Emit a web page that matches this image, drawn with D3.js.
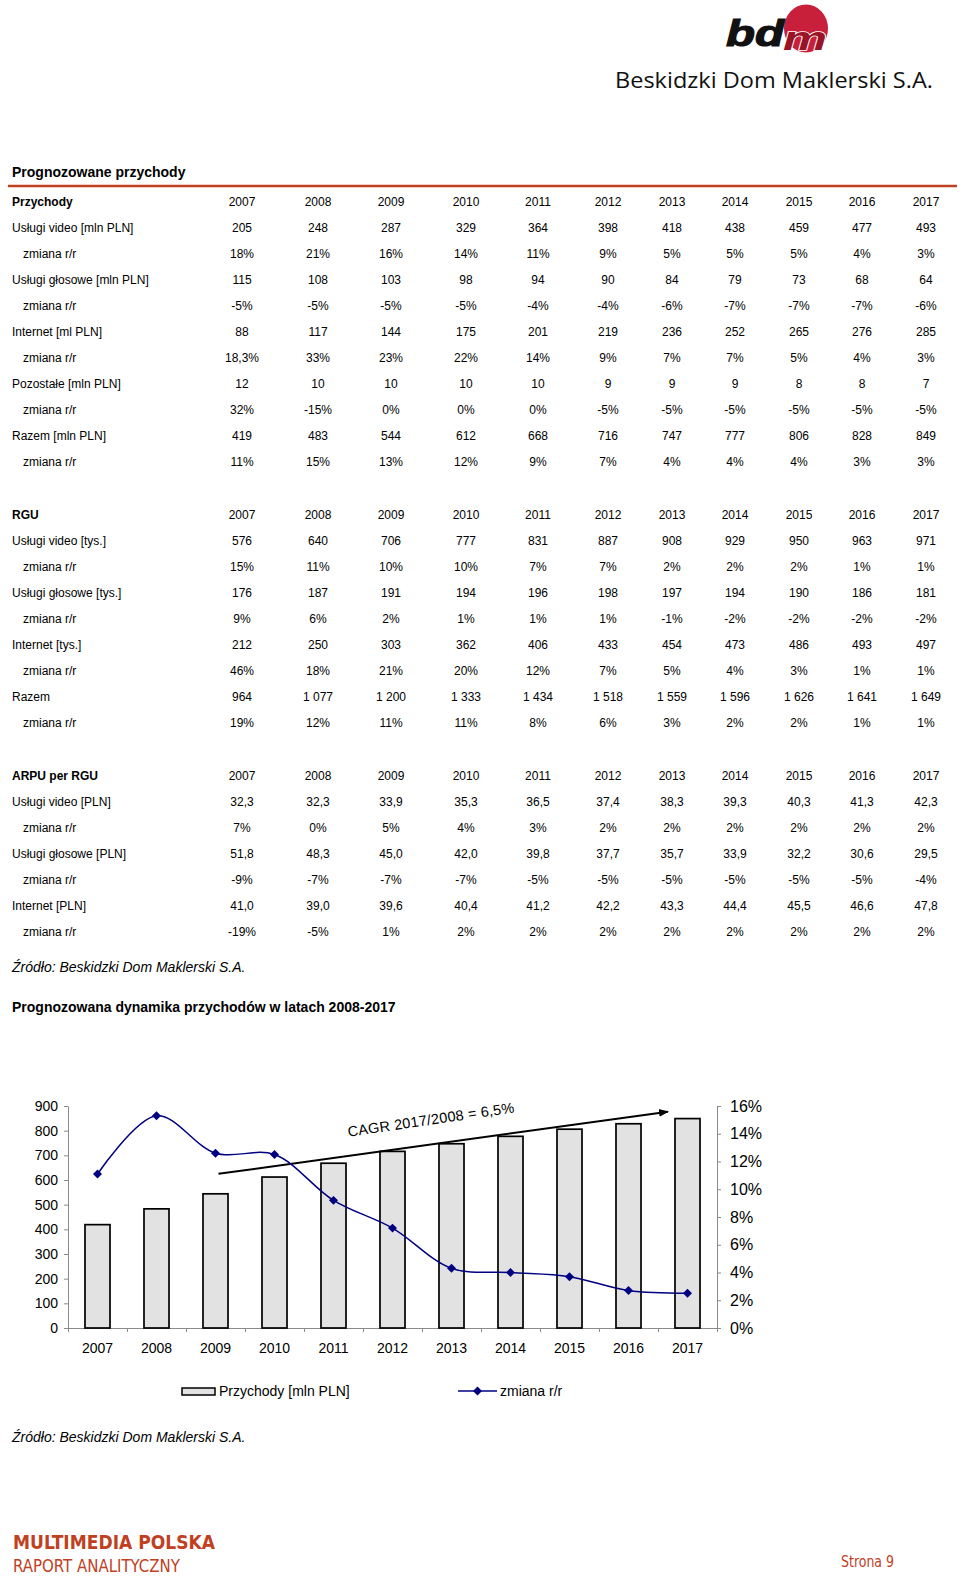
<!DOCTYPE html>
<html>
<head>
<meta charset="utf-8">
<script src="https://cdn.jsdelivr.net/npm/d3@7"></script>
<style>
  body { margin: 0; background: #fff; }
  svg text { font-family: "Liberation Sans", Arial, sans-serif; }
  .tbl { font-size: 12px; fill: #000; white-space: pre; }
</style>
</head>
<body>
<div class="page"></div>
<script>
// ---- table data ----
var years = ["2007", "2008", "2009", "2010", "2011", "2012", "2013", "2014", "2015", "2016", "2017"];

var przychodyRows = [
  ["Usługi video [mln PLN]", ["205", "248", "287", "329", "364", "398", "418", "438", "459", "477", "493"]],
  ["zmiana r/r", ["18%", "21%", "16%", "14%", "11%", "9%", "5%", "5%", "5%", "4%", "3%"]],
  ["Usługi głosowe [mln  PLN]", ["115", "108", "103", "98", "94", "90", "84", "79", "73", "68", "64"]],
  ["zmiana r/r", ["-5%", "-5%", "-5%", "-5%", "-4%", "-4%", "-6%", "-7%", "-7%", "-7%", "-6%"]],
  ["Internet [ml PLN]", ["88", "117", "144", "175", "201", "219", "236", "252", "265", "276", "285"]],
  ["zmiana r/r", ["18,3%", "33%", "23%", "22%", "14%", "9%", "7%", "7%", "5%", "4%", "3%"]],
  ["Pozostałe [mln PLN]", ["12", "10", "10", "10", "10", "9", "9", "9", "8", "8", "7"]],
  ["zmiana r/r", ["32%", "-15%", "0%", "0%", "0%", "-5%", "-5%", "-5%", "-5%", "-5%", "-5%"]],
  ["Razem [mln PLN]", ["419", "483", "544", "612", "668", "716", "747", "777", "806", "828", "849"]],
  ["zmiana r/r", ["11%", "15%", "13%", "12%", "9%", "7%", "4%", "4%", "4%", "3%", "3%"]]
];

var rguRows = [
  ["Usługi video [tys.]", ["576", "640", "706", "777", "831", "887", "908", "929", "950", "963", "971"]],
  ["zmiana r/r", ["15%", "11%", "10%", "10%", "7%", "7%", "2%", "2%", "2%", "1%", "1%"]],
  ["Usługi głosowe [tys.]", ["176", "187", "191", "194", "196", "198", "197", "194", "190", "186", "181"]],
  ["zmiana r/r", ["9%", "6%", "2%", "1%", "1%", "1%", "-1%", "-2%", "-2%", "-2%", "-2%"]],
  ["Internet [tys.]", ["212", "250", "303", "362", "406", "433", "454", "473", "486", "493", "497"]],
  ["zmiana r/r", ["46%", "18%", "21%", "20%", "12%", "7%", "5%", "4%", "3%", "1%", "1%"]],
  ["Razem", ["964", "1 077", "1 200", "1 333", "1 434", "1 518", "1 559", "1 596", "1 626", "1 641", "1 649"]],
  ["zmiana r/r", ["19%", "12%", "11%", "11%", "8%", "6%", "3%", "2%", "2%", "1%", "1%"]]
];

var arpuRows = [
  ["Usługi video [PLN]", ["32,3", "32,3", "33,9", "35,3", "36,5", "37,4", "38,3", "39,3", "40,3", "41,3", "42,3"]],
  ["zmiana r/r", ["7%", "0%", "5%", "4%", "3%", "2%", "2%", "2%", "2%", "2%", "2%"]],
  ["Usługi głosowe [PLN]", ["51,8", "48,3", "45,0", "42,0", "39,8", "37,7", "35,7", "33,9", "32,2", "30,6", "29,5"]],
  ["zmiana r/r", ["-9%", "-7%", "-7%", "-7%", "-5%", "-5%", "-5%", "-5%", "-5%", "-5%", "-4%"]],
  ["Internet [PLN]", ["41,0", "39,0", "39,6", "40,4", "41,2", "42,2", "43,3", "44,4", "45,5", "46,6", "47,8"]],
  ["zmiana r/r", ["-19%", "-5%", "1%", "2%", "2%", "2%", "2%", "2%", "2%", "2%", "2%"]]
];

// ---- chart data ----
var chartYears = ["2007", "2008", "2009", "2010", "2011", "2012", "2013", "2014", "2015", "2016", "2017"];
var revenue = [419, 483, 544, 612, 668, 716, 747, 777, 806, 828, 849];
var revenueChange = [11.1, 15.3, 12.6, 12.5, 9.2, 7.2, 4.3, 4.0, 3.7, 2.7, 2.5];
var leftTicks = [0, 100, 200, 300, 400, 500, 600, 700, 800, 900];
var rightTicks = [0, 2, 4, 6, 8, 10, 12, 14, 16];
var cagrLabel = "CAGR 2017/2008 = 6,5%";

// column centres of the table (layout)
var colX = [242, 318, 391, 466, 538, 608, 672, 735, 799, 862, 926];
var rowStep = 26;
var rust = "#c0401f";

var svg = d3.select(".page")
    .append("svg")
    .attr("width", 960)
    .attr("height", 1581);

// ---- logo ----
var logo = svg.append("g");
logo.append("ellipse")
    .attr("cx", 806).attr("cy", 28.5)
    .attr("rx", 22).attr("ry", 24)
    .style("fill", "#c8203a");
logo.append("text")
    .attr("x", 726).attr("y", 46)
    .attr("textLength", 58).attr("lengthAdjust", "spacingAndGlyphs")
    .style("font-size", "37px").style("font-weight", "bold").style("font-style", "italic")
    .style("fill", "#111").style("stroke", "#111").style("stroke-width", 1.2)
    .text("bd");
logo.append("text")
    .attr("x", 783).attr("y", 50)
    .attr("textLength", 44).attr("lengthAdjust", "spacingAndGlyphs")
    .style("font-size", "34px").style("font-weight", "bold").style("font-style", "italic")
    .style("fill", "#9a1428").style("stroke", "#fff").style("stroke-width", 1.5)
    .style("paint-order", "stroke")
    .text("m");
logo.append("text")
    .attr("x", 615).attr("y", 88)
    .attr("textLength", 318).attr("lengthAdjust", "spacingAndGlyphs")
    .style("font-family", "'Open Sans', 'Noto Sans', sans-serif")
    .style("font-size", "22px").style("fill", "#111")
    .text("Beskidzki Dom Maklerski S.A.");

// ---- table ----
svg.append("text")
    .attr("x", 12).attr("y", 172).attr("dy", "0.35em")
    .style("font-size", "14px").style("font-weight", "bold")
    .text("Prognozowane przychody");

svg.append("line")
    .attr("x1", 8).attr("x2", 957)
    .attr("y1", 186).attr("y2", 186)
    .style("stroke", rust).style("stroke-width", 2.5);

function drawSection(title, rows, top) {
  var g = svg.append("g").attr("class", "tbl");
  g.append("text")
      .attr("x", 12).attr("y", top).attr("dy", "0.35em")
      .style("font-weight", "bold")
      .text(title);
  g.selectAll(".yr")
      .data(years)
      .enter()
      .append("text")
      .attr("x", function(d, i) { return colX[i]; })
      .attr("y", top).attr("dy", "0.35em")
      .attr("text-anchor", "middle")
      .text(function(d) { return d; });

  rows.forEach(function(r, ri) {
    var y = top + (ri + 1) * rowStep;
    var indent = r[0] === "zmiana r/r" ? 23 : 12;
    g.append("text")
        .attr("x", indent).attr("y", y).attr("dy", "0.35em")
        .text(r[0]);
    g.selectAll(".v" + ri)
        .data(r[1])
        .enter()
        .append("text")
        .attr("x", function(d, i) { return colX[i]; })
        .attr("y", y).attr("dy", "0.35em")
        .attr("text-anchor", "middle")
        .text(function(d) { return d; });
  });
}

drawSection("Przychody", przychodyRows, 201.7);
drawSection("RGU", rguRows, 514.5);
drawSection("ARPU per RGU", arpuRows, 775.5);

svg.append("text")
    .attr("x", 12).attr("y", 967).attr("dy", "0.35em")
    .style("font-size", "14px").style("font-style", "italic")
    .text("Źródło: Beskidzki Dom Maklerski S.A.");

svg.append("text")
    .attr("x", 12).attr("y", 1007).attr("dy", "0.35em")
    .style("font-size", "14px").style("font-weight", "bold")
    .text("Prognozowana dynamika przychodów w latach 2008-2017");

// ---- chart ----
var chart = svg.append("g");
var x0 = 68, x1 = 717, yBottom = 1328, yTop = 1106;

var xScale = d3.scaleBand()
    .domain(chartYears)
    .range([x0, x1])
    .paddingInner(0.576)
    .paddingOuter(0.288);

var yLeft = d3.scaleLinear().domain([0, 900]).range([yBottom, yTop]);
var yRight = d3.scaleLinear().domain([0, 16]).range([yBottom, yTop]);

var axisColor = "#8a8a8a";

// left axis
var leftAxis = chart.append("g")
    .attr("transform", "translate(" + x0 + ",0)")
    .call(d3.axisLeft(yLeft).tickValues(leftTicks).tickSize(4).tickSizeOuter(0).tickPadding(6));

// right axis
var rightAxis = chart.append("g")
    .attr("transform", "translate(" + x1 + ",0)")
    .call(d3.axisRight(yRight).tickValues(rightTicks).tickSize(4).tickSizeOuter(0).tickPadding(9)
      .tickFormat(function(d) { return d + "%"; }));

// bottom axis: ticks at category boundaries, labels at centres
var boundary = d3.scaleLinear().domain([0, chartYears.length]).range([x0, x1]);
chart.append("g")
    .attr("transform", "translate(0," + yBottom + ")")
    .call(d3.axisBottom(boundary).tickValues(d3.range(chartYears.length + 1))
      .tickSize(4).tickSizeOuter(0).tickFormat(""));
var bottomLabels = chart.append("g")
    .attr("transform", "translate(0," + yBottom + ")")
    .call(d3.axisBottom(xScale).tickSize(0).tickPadding(15));
bottomLabels.select(".domain").remove();

chart.selectAll(".domain, .tick line").style("stroke", axisColor);
leftAxis.selectAll("text").style("font-size", "14px").style("font-family", "'Liberation Sans', Arial").style("fill", "#000");
rightAxis.selectAll("text").style("font-size", "16px").style("font-family", "'Liberation Sans', Arial").style("fill", "#000");
bottomLabels.selectAll("text").style("font-size", "14px").style("font-family", "'Liberation Sans', Arial").style("fill", "#000");

// bars
chart.selectAll(".bar")
    .data(revenue)
    .enter()
    .append("rect")
    .attr("class", "bar")
    .attr("x", function(d, i) { return xScale(chartYears[i]); })
    .attr("y", function(d) { return yLeft(d); })
    .attr("width", xScale.bandwidth())
    .attr("height", function(d) { return yBottom - yLeft(d); })
    .style("fill", "#e2e2e2")
    .style("stroke", "#000")
    .style("stroke-width", 1.7);

// CAGR arrow
var defs = svg.append("defs");
defs.append("marker")
    .attr("id", "arrow")
    .attr("viewBox", "0 0 10 10")
    .attr("refX", 9).attr("refY", 5)
    .attr("markerWidth", 5).attr("markerHeight", 5)
    .attr("orient", "auto")
    .append("path")
    .attr("d", "M0,1 L10,5 L0,9 Z")
    .style("fill", "#000");

var half = xScale.bandwidth() / 2;
chart.append("line")
    .attr("x1", xScale("2009") + half + 3)
    .attr("y1", yLeft(625))
    .attr("x2", xScale("2017") - 7)
    .attr("y2", yLeft(877))
    .style("stroke", "#000")
    .style("stroke-width", 2)
    .attr("marker-end", "url(#arrow)");

chart.append("text")
    .attr("transform", "translate(" + (xScale("2011") + half + 15) + "," + yLeft(775) + ") rotate(-8.4)")
    .style("font-size", "14.5px")
    .style("letter-spacing", "0.2px")
    .text(cagrLabel);

// change line
var line = d3.line()
    .x(function(d, i) { return xScale(chartYears[i]) + half; })
    .y(function(d) { return yRight(d); })
    .curve(d3.curveCatmullRom);

var navy = "#000080";
chart.append("path")
    .datum(revenueChange)
    .attr("d", line)
    .style("fill", "none")
    .style("stroke", navy)
    .style("stroke-width", 1.5);

var diamond = d3.symbol().type(d3.symbolSquare).size(40);
chart.selectAll(".pt")
    .data(revenueChange)
    .enter()
    .append("path")
    .attr("class", "pt")
    .attr("d", diamond)
    .attr("transform", function(d, i) {
      return "translate(" + (xScale(chartYears[i]) + half) + "," + yRight(d) + ") rotate(45)";
    })
    .style("fill", navy);

// legend
var legend = svg.append("g").style("font-size", "14px");
legend.append("rect")
    .attr("x", 182).attr("y", 1388)
    .attr("width", 33).attr("height", 7)
    .style("fill", "#e2e2e2").style("stroke", "#000").style("stroke-width", 1.5);
legend.append("text")
    .attr("x", 219).attr("y", 1391).attr("dy", "0.35em")
    .text("Przychody [mln PLN]");
legend.append("line")
    .attr("x1", 458).attr("x2", 497).attr("y1", 1391).attr("y2", 1391)
    .style("stroke", navy).style("stroke-width", 1.5);
legend.append("path")
    .attr("d", diamond)
    .attr("transform", "translate(477.5,1391) rotate(45)")
    .style("fill", navy);
legend.append("text")
    .attr("x", 500).attr("y", 1391).attr("dy", "0.35em")
    .text("zmiana r/r");

svg.append("text")
    .attr("x", 12).attr("y", 1437).attr("dy", "0.35em")
    .style("font-size", "14px").style("font-style", "italic")
    .text("Źródło: Beskidzki Dom Maklerski S.A.");

// ---- footer ----
svg.append("text")
    .attr("x", 13).attr("y", 1549)
    .attr("textLength", 202).attr("lengthAdjust", "spacingAndGlyphs")
    .style("font-family", "'DejaVu Sans Condensed', 'DejaVu Sans', sans-serif")
    .style("font-size", "19px").style("font-weight", "bold")
    .style("fill", rust)
    .text("MULTIMEDIA POLSKA");
svg.append("text")
    .attr("x", 13).attr("y", 1572)
    .attr("textLength", 167).attr("lengthAdjust", "spacingAndGlyphs")
    .style("font-family", "'DejaVu Sans Condensed', 'DejaVu Sans', sans-serif")
    .style("font-size", "17px")
    .style("fill", rust)
    .text("RAPORT ANALITYCZNY");
svg.append("text")
    .attr("x", 841).attr("y", 1567)
    .attr("textLength", 53).attr("lengthAdjust", "spacingAndGlyphs")
    .style("font-family", "'DejaVu Sans Condensed', 'DejaVu Sans', sans-serif")
    .style("font-size", "16px")
    .style("fill", rust)
    .text("Strona 9");
</script>
</body>
</html>
